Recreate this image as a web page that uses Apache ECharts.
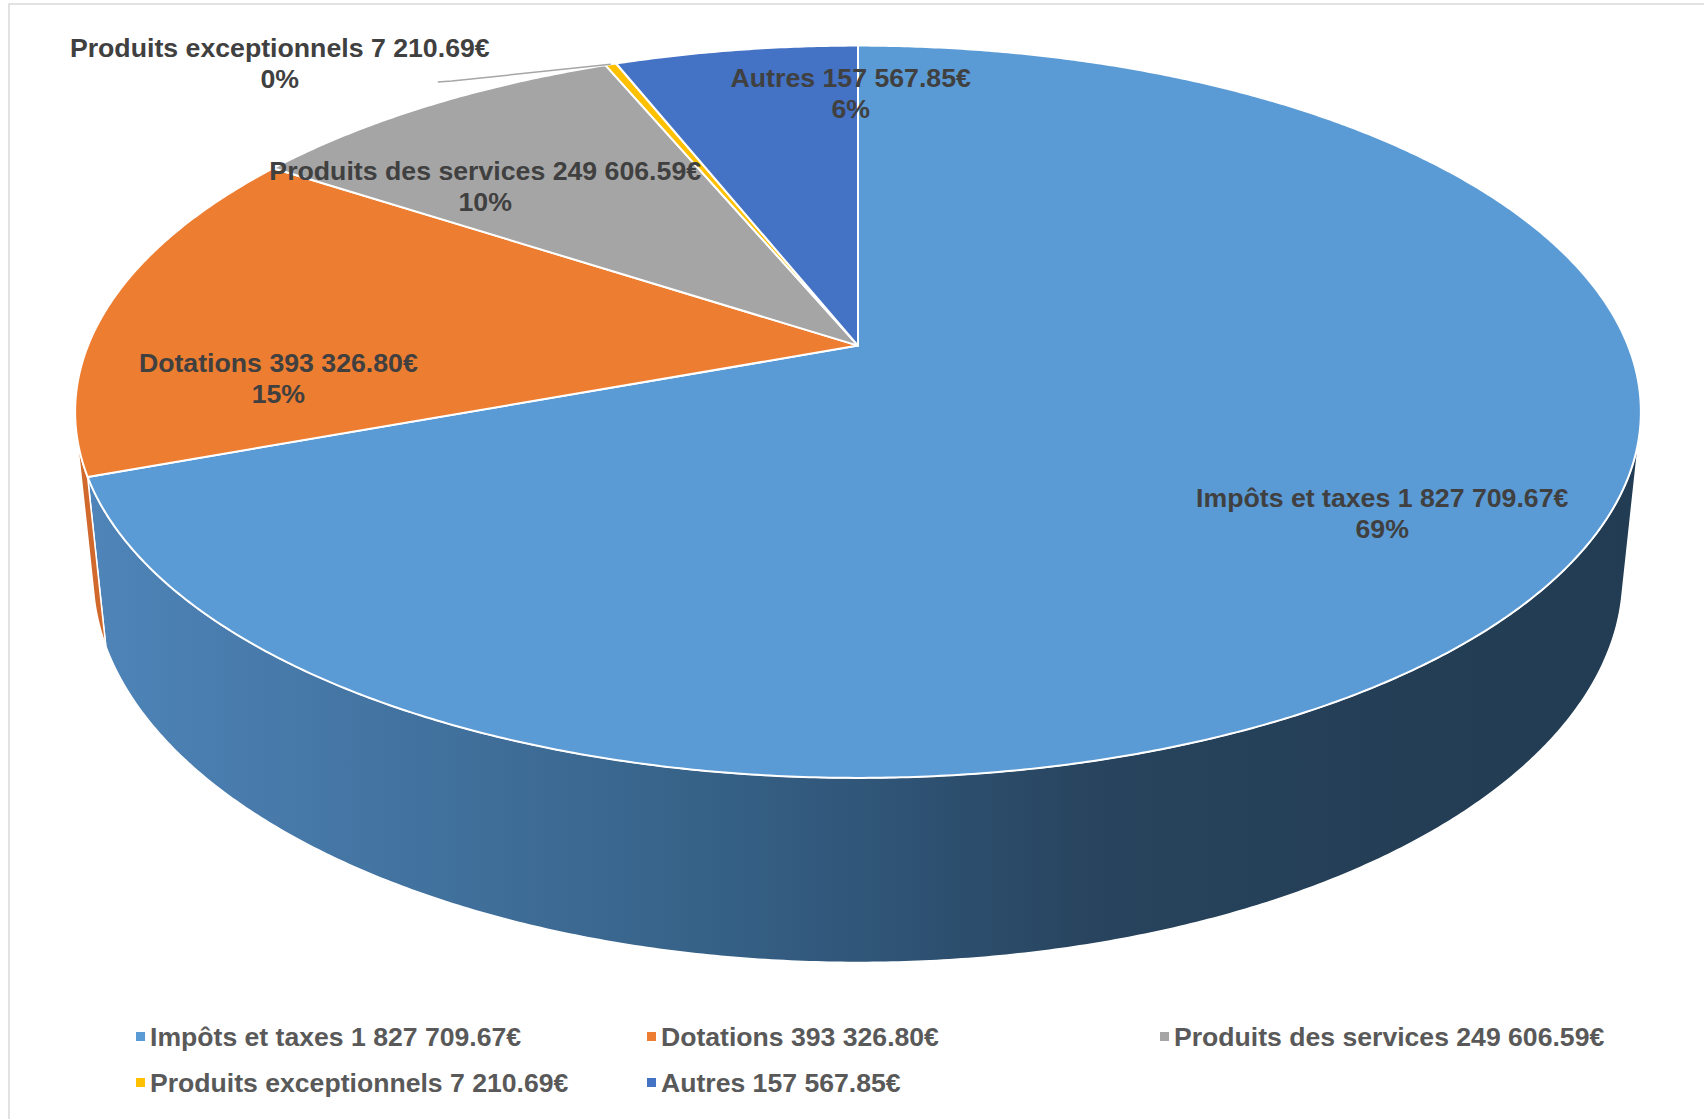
<!DOCTYPE html>
<html>
<head>
<meta charset="utf-8">
<script src="https://cdn.jsdelivr.net/npm/echarts@6/dist/echarts.min.js"></script>
<style>
html,body{margin:0;padding:0;background:#fff;}
#chart{width:1704px;height:1119px;}
</style>
</head>
<body>
<div id="chart"></div>
<script>
// ---- data ----
const categories = ['Impôts et taxes', 'Dotations', 'Produits des services', 'Produits exceptionnels', 'Autres'];
const values = [1827709.67, 393326.80, 249606.59, 7210.69, 157567.85];
const percentLabels = ['69%', '15%', '10%', '0%', '6%'];
const colors = ['#5b9bd5', '#ed7d31', '#a5a5a5', '#ffc000', '#4472c4'];
const wallColors = [null, '#d0692b', '#8c8c8c', '#d9a300', '#3a61a7'];

function fmtEuro(v) {
  const parts = v.toFixed(2).split('.');
  return parts[0].replace(/\B(?=(\d{3})+(?!\d))/g, ' ') + '.' + parts[1] + '€';
}
const names = categories.map((c, i) => c + ' ' + fmtEuro(values[i]));
const total = values.reduce((a, b) => a + b, 0);
const spans = [];
let acc = 0;
values.forEach(v => { spans.push([acc / total, (acc + v) / total]); acc += v; });

// ---- layout (3D projection) ----
const PIE = { cx: 858, cy: 345.6, r: 770, h: 186, d: 3785, sinA: 0.46 };
PIE.cosA = Math.sqrt(1 - PIE.sinA * PIE.sinA);
const PHI_MIN = Math.acos(-PIE.r / (PIE.d * PIE.cosA));
const PHI_MAX = 2 * Math.PI - PHI_MIN;
const labelLayout = [
  { dAngle: 0, r: 0.764 },
  { dAngle: -13.5, r: 0.746 },
  { dAngle: -7.5, r: 0.72 },
  { dAngle: -21.35, r: 1.277, leader: true },
  { dAngle: 10, r: 0.817 }
];
const FONT = "'Liberation Sans', Arial, sans-serif";

function project(phi, rr, yw) {
  const X = rr * Math.sin(phi), Z = rr * Math.cos(phi);
  const yc = yw * PIE.cosA + Z * PIE.sinA;
  const zc = Z * PIE.cosA - yw * PIE.sinA;
  const s = PIE.d / (PIE.d + zc);
  return [PIE.cx + X * s, PIE.cy - yc * s];
}
const STEP = 0.4 * Math.PI / 180;

function arcPts(api, a, b, rr, yw) {
  const n = Math.max(2, Math.ceil((b - a) / STEP));
  const pts = [];
  for (let k = 0; k <= n; k++) pts.push(api.coord(project(a + (b - a) * k / n, rr, yw)));
  return pts;
}

function makeTop(i) {
  return function (params, api) {
    const a = api.value(0) * 2 * Math.PI, b = api.value(1) * 2 * Math.PI;
    const pts = [api.coord(project(0, 0, 0))].concat(arcPts(api, a, b, PIE.r, 0));
    const children = [{
      type: 'polygon',
      shape: { points: pts },
      style: { fill: colors[i], stroke: '#ffffff', lineWidth: 2, lineJoin: 'round' }
    }];
    const L = labelLayout[i];
    const mid = (a + b) / 2 + L.dAngle * Math.PI / 180;
    const p = api.coord(project(mid, PIE.r * L.r, 0));
    children.push({
      type: 'text', x: p[0], y: p[1], z2: 100,
      style: {
        text: names[i] + '\n' + percentLabels[i], fill: '#404040',
        fontSize: 26.7, fontWeight: 'bold', fontFamily: FONT,
        align: 'center', verticalAlign: 'middle', lineHeight: 31
      }
    });
    if (L.leader) {
      const rim = api.coord(project((a + b) / 2, PIE.r, 0));
      children.push({
        type: 'polyline', z2: 90,
        shape: { points: [rim, [p[0] + 172, p[1] + 17], [p[0] + 158, p[1] + 18]] },
        style: { stroke: '#a6a6a6', lineWidth: 1.5, fill: null }
      });
    }
    return { type: 'group', children: children };
  };
}

function makeWall(i) {
  return function (params, api) {
    const s = api.value(0) * 2 * Math.PI, e = api.value(1) * 2 * Math.PI;
    const a = Math.max(s, PHI_MIN), b = Math.min(e, PHI_MAX);
    if (a >= b) return { type: 'group', children: [] };
    const top = arcPts(api, a, b, PIE.r, 0);
    const bot = arcPts(api, a, b, PIE.r, -PIE.h).reverse();
    let fill;
    if (i === 0) {
      const l = api.coord(project(PHI_MAX, PIE.r, 0))[0];
      const r = api.coord(project(PHI_MIN, PIE.r, 0))[0];
      fill = new echarts.graphic.LinearGradient(l, 0, r, 0, [
        { offset: 0, color: '#4f85ba' },
        { offset: 0.39, color: '#376389' },
        { offset: 0.52, color: '#2f5476' },
        { offset: 0.65, color: '#28445e' },
        { offset: 0.85, color: '#233e55' },
        { offset: 1, color: '#223c53' }
      ], true);
    } else {
      fill = wallColors[i];
    }
    return {
      type: 'polygon',
      shape: { points: top.concat(bot) },
      style: { fill: fill, stroke: '#ffffff', lineWidth: 1.5, lineJoin: 'round' }
    };
  };
}

const series = [];
names.forEach((n, i) => {
  series.push({
    type: 'custom', name: n, coordinateSystem: 'cartesian2d', z: 3,
    itemStyle: { color: colors[i] },
    data: [spans[i]], renderItem: makeTop(i), silent: true
  });
});
names.forEach((n, i) => {
  series.push({
    type: 'custom', name: n, coordinateSystem: 'cartesian2d', z: 2,
    itemStyle: { color: colors[i] },
    data: [spans[i]], renderItem: makeWall(i), silent: true
  });
});

const legendCommon = {
  icon: 'rect', itemWidth: 9, itemHeight: 9, orient: 'vertical', itemGap: 19,
  selectedMode: false, padding: 0,
  textStyle: { fontSize: 26.6, fontWeight: 'bold', color: '#595959', fontFamily: FONT, lineHeight: 27 }
};
const leg = idx => idx.map(k => ({ name: names[k], itemStyle: { color: colors[k] } }));

const chart = echarts.init(document.getElementById('chart'), null, { renderer: 'svg' });
chart.setOption({
  animation: false,
  backgroundColor: '#ffffff',
  grid: { left: 0, right: 0, top: 0, bottom: 0 },
  xAxis: { type: 'value', min: 0, max: 1704, show: false },
  yAxis: { type: 'value', min: 0, max: 1119, inverse: true, show: false },
  legend: [
    Object.assign({}, legendCommon, { left: 136, top: 1023, data: leg([0, 3]) }),
    Object.assign({}, legendCommon, { left: 647, top: 1023, data: leg([1, 4]) }),
    Object.assign({}, legendCommon, { left: 1160, top: 1023, data: leg([2]) })
  ],
  graphic: [{
    type: 'rect', silent: true, z: -10,
    shape: { x: 9, y: 4, width: 1740, height: 1160 },
    style: { fill: 'none', stroke: '#d9d9d9', lineWidth: 1.5 }
  }],
  series: series
});
</script>
</body>
</html>
